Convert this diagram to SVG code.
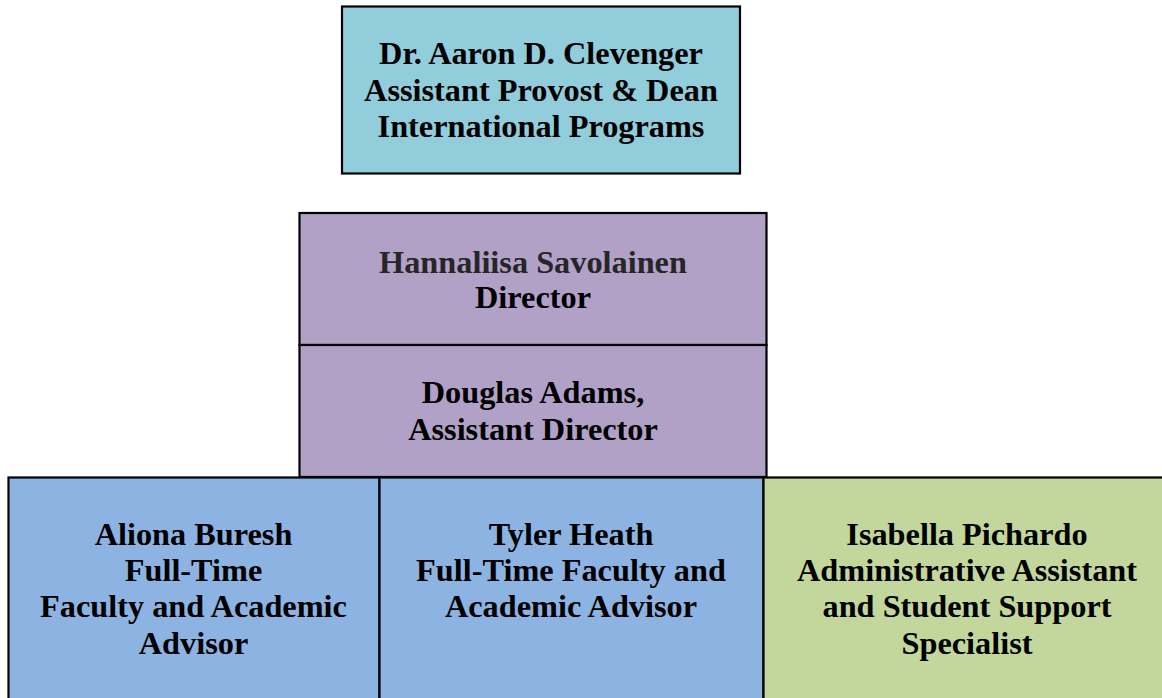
<svg xmlns="http://www.w3.org/2000/svg" width="1162" height="698" viewBox="0 0 1162 698">
  <style>
    .box { stroke: #000; stroke-width: 2.2; }
    .dean { fill: #92CDDC; }
    .lead { fill: #B2A1C7; }
    .advisor { fill: #8DB3E2; }
    .support { fill: #C3D69B; }
    text { font-family: "Liberation Serif", "Times New Roman", serif; font-weight: bold; font-size: 32.3px; fill: #000; text-anchor: middle; }
    .soft { fill: #262626; }
  </style>
  <rect width="1162" height="698" fill="#fff"/>

  <g id="dean">
    <rect class="box dean" x="342" y="6.5" width="398" height="167"/>
    <text x="541" y="64">Dr. Aaron D. Clevenger</text>
    <text x="541" y="101">Assistant Provost &amp; Dean</text>
    <text x="541" y="137">International Programs</text>
  </g>

  <g id="director">
    <rect class="box lead" x="299.5" y="213" width="467" height="132"/>
    <text class="soft" x="533" y="273">Hannaliisa Savolainen</text>
    <text x="533" y="308">Director</text>
  </g>

  <g id="assistant-director">
    <rect class="box lead" x="299.5" y="345" width="467" height="132"/>
    <text x="533" y="403">Douglas Adams,</text>
    <text x="533" y="440">Assistant Director</text>
  </g>

  <g id="advisor-buresh">
    <rect class="box advisor" x="8.5" y="477.5" width="371" height="230"/>
    <text x="193.5" y="545">Aliona Buresh</text>
    <text x="193.5" y="581">Full-Time</text>
    <text x="193.5" y="617">Faculty and Academic</text>
    <text x="193.5" y="654">Advisor</text>
  </g>

  <g id="advisor-heath">
    <rect class="box advisor" x="379.5" y="477.5" width="384" height="230"/>
    <text x="571" y="545">Tyler Heath</text>
    <text x="571" y="581">Full-Time Faculty and</text>
    <text x="571" y="617">Academic Advisor</text>
  </g>

  <g id="support-pichardo">
    <rect class="box support" x="763.5" y="477.5" width="410" height="230"/>
    <text x="967" y="545">Isabella Pichardo</text>
    <text x="967" y="581">Administrative Assistant</text>
    <text x="967" y="617">and Student Support</text>
    <text x="967" y="654">Specialist</text>
  </g>

  <g id="connectors"></g>
</svg>
